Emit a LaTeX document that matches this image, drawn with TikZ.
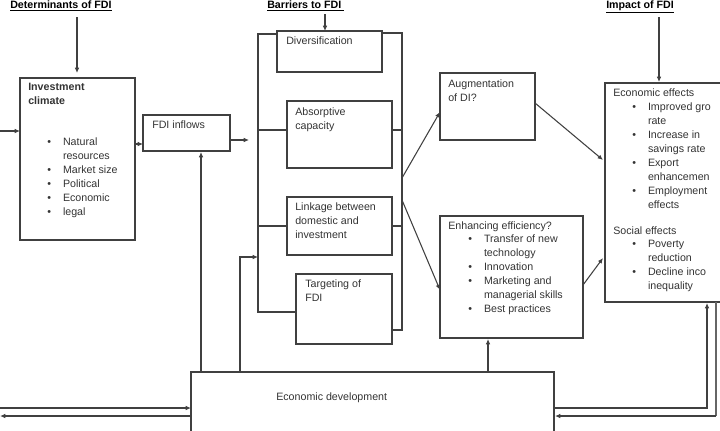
\documentclass[tikz,border=0pt]{standalone}
\usepackage{fontspec}
\setmainfont{Liberation Sans}
\usetikzlibrary{arrows.meta}
\begin{document}
\begin{tikzpicture}[x=0.75pt,y=-0.75pt,
  bx/.style={draw=black!75,line width=0.8pt},
  ln/.style={draw=black!75,line width=0.8pt},
  ar/.style={ln,-{Latex[length=4pt,width=3.5pt]}},
  txt/.style={anchor=north west,font=\fontsize{8pt}{10.5pt}\selectfont,text=black!80,inner sep=0pt,align=left},
  ttl/.style={anchor=north west,font=\bfseries\fontsize{8pt}{10pt}\selectfont,inner sep=0pt}]
\useasboundingbox (0,0) rectangle (720,430);
\clip (0,0) rectangle (720,430);
% titles
\node[ttl] (t1) at (10,0) {\underline{Determinants of FDI}};
\node[ttl] (t2) at (267,0) {\underline{Barriers to FDI\ }};
\node[ttl] (t3) at (606,0) {\underline{Impact of FDI}};
% boxes
\draw[bx] (20,78) rectangle (135,240);
\node[txt,font=\bfseries\fontsize{8pt}{10.5pt}\selectfont] (ict) at (28,83) {Investment\\climate};
\node[txt] (icl) at (47,137) {\textbullet\hspace{9pt}Natural\\\phantom{\textbullet}\hspace{9pt}resources\\\textbullet\hspace{9pt}Market size\\\textbullet\hspace{9pt}Political\\\textbullet\hspace{9pt}Economic\\\textbullet\hspace{9pt}legal};
\draw[bx] (143,115) rectangle (230,151);
\node[txt] (fdi) at (152,120) {FDI inflows};
\draw[bx] (277,31) rectangle (382,72);
\node[txt] (div) at (286,36) {Diversification};
\draw[bx] (287,101) rectangle (392,168);
\node[txt] (abs) at (295,107) {Absorptive\\capacity};
\draw[bx] (287,197) rectangle (392,255);
\node[txt] (lnk) at (295,202) {Linkage between\\domestic and\\investment};
\draw[bx] (296,274) rectangle (392,344);
\node[txt] (tar) at (305,279) {Targeting of\\FDI};
\draw[bx] (440,73) rectangle (535,140);
\node[txt] (aug) at (448,79) {Augmentation\\of DI?};
\draw[bx] (440,216) rectangle (583,338);
\node[txt] (enh) at (448,221) {Enhancing efficiency?};
\node[txt] (enhl) at (468,235) {\textbullet\hspace{9pt}Transfer of new\\\phantom{\textbullet}\hspace{9pt}technology\\\textbullet\hspace{9pt}Innovation\\\textbullet\hspace{9pt}Marketing and\\\phantom{\textbullet}\hspace{9pt}managerial skills\\\textbullet\hspace{9pt}Best practices};
\draw[bx] (605,83) rectangle (730,302);
\node[txt] (imp) at (613,88) {Economic effects};
\node[txt] (impl) at (632,102) {\textbullet\hspace{9pt}Improved gro\\\phantom{\textbullet}\hspace{9pt}rate\\\textbullet\hspace{9pt}Increase in\\\phantom{\textbullet}\hspace{9pt}savings rate\\\textbullet\hspace{9pt}Export\\\phantom{\textbullet}\hspace{9pt}enhancemen\\\textbullet\hspace{9pt}Employment\\\phantom{\textbullet}\hspace{9pt}effects};
\node[txt] (soc) at (613,226) {Social effects};
\node[txt] (socl) at (632,240) {\textbullet\hspace{9pt}Poverty\\\phantom{\textbullet}\hspace{9pt}reduction\\\textbullet\hspace{9pt}Decline inco\\\phantom{\textbullet}\hspace{9pt}inequality};
\draw[bx] (191,440) -- (191,372) -- (554,372) -- (554,440);
\node[txt] (ed) at (276,392) {Economic development};
% arrows
\coordinate (a1) at (77,17); \coordinate (a2) at (77,73);
\draw[ar] (a1) -- (a2);
\coordinate (b1) at (325,14); \coordinate (b2) at (325,31);
\draw[ar] (b1) -- (b2);
\coordinate (c1) at (659,17); \coordinate (c2) at (659,82);
\draw[ar] (c1) -- (c2);
\coordinate (l0) at (0,131); \coordinate (l1) at (20,131);
\draw[ar] (l0) -- (l1);
\coordinate (f0) at (135,144); \coordinate (f1) at (143,144);
\draw[ar] (f0) -- (f1);
\coordinate (g0) at (230,140); \coordinate (g1) at (249,140);
\draw[ar] (g0) -- (g1);
% bracket
\draw[ln] (277,34) -- (258,34) -- (258,312) -- (296,312);
\draw[ln] (258,130) -- (287,130);
\draw[ln] (258,226) -- (287,226);
\draw[ln] (382,33) -- (402,33) -- (402,330) -- (392,330);
\draw[ln] (392,130) -- (402,130);
\draw[ln] (392,226) -- (402,226);
\coordinate (p1) at (402,178); \coordinate (p2) at (440,112);
\draw[ar] (p1) -- (p2);
\coordinate (q1) at (402,200); \coordinate (q2) at (440,290);
\draw[ar] (q1) -- (q2);
\coordinate (r1) at (535,103); \coordinate (r2) at (603,160);
\draw[ar] (r1) -- (r2);
\coordinate (s1) at (583,285); \coordinate (s2) at (603,258);
\draw[ar] (s1) -- (s2);
% from economic development
\draw[ar] (201,372) -- (201,152);
\draw[ar] (240,372) -- (240,257) -- (258,257);
\draw[ar] (488,372) -- (488,339);
\draw[ar] (0,408) -- (191,408);
\draw[ar] (191,416) -- (0,416);
\draw[ar] (554,408) -- (707,408) -- (707,303);
\draw[ln,line width=2.2pt,black!60] (716,302) -- (716,416);
\draw[ar] (716,416) -- (555,416);
\end{tikzpicture}
\end{document}
